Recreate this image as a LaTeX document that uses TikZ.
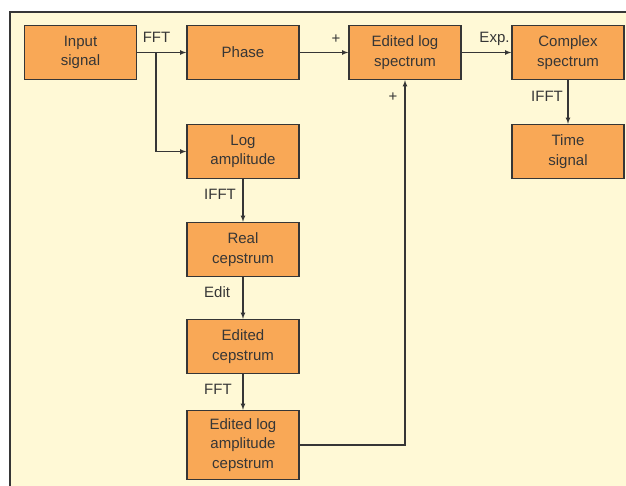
\documentclass[tikz,border=0pt]{standalone}
\usepackage{fontspec}
\setmainfont{Liberation Sans}
\usepackage{xcolor}
\usetikzlibrary{arrows}
\definecolor{bgcream}{HTML}{FFF9D6}
\definecolor{boxorange}{HTML}{F9A856}
\definecolor{inkgray}{HTML}{363636}
\tikzset{
	block/.style={
			draw=inkgray, line width=1.4pt, fill=boxorange,
			minimum width=112pt, minimum height=54pt, inner sep=0pt,
			align=center, text=inkgray, font=\fontsize{15}{19.5}\selectfont
		},
	flow/.style={draw=inkgray, line width=1.1pt, ->, >=latex},
	tag/.style={text=inkgray, inner sep=0pt, font=\fontsize{15}{18}\selectfont}
}

\begin{document}
\begin{tikzpicture}[x=1pt, y=-1pt]
        % Hintergrund und Rahmen
        \useasboundingbox (0,0) rectangle (626,486);
        \fill[bgcream] (10,12) rectangle (626,486);
        \draw[inkgray, line width=1.3pt] (10,486) -- (10,12) -- (626,12);
        % Kaesten
        \node[block] (input) at (80.5,52.5) {Input\\signal};
        \node[block] (phase) at (243,52.5) {Phase};
        \node[block] (elspec) at (405,52.5) {Edited log\\spectrum};
        \node[block] (complex) at (568,52.5) {Complex\\spectrum};
        \node[block] (timesig) at (568,151.5) {Time\\signal};
        \node[block] (logamp) at (243,151.5) {Log\\amplitude};
        \node[block] (realcep) at (243,249.5) {Real\\cepstrum};
        \node[block] (editcep) at (243,346.5) {Edited\\cepstrum};
        \node[block, minimum height=69pt] (elacep) at (243,445) {Edited log\\amplitude\\cepstrum};
        % Verbindungen
        \coordinate (split) at (156,52.5);
        \draw[flow] (input) -- (phase);
        \draw[flow] (split) |- (logamp);
        \draw[flow] (phase) -- (elspec);
        \draw[flow] (elspec) -- (complex);
        \draw[flow] (complex) -- (timesig);
        \draw[flow] (logamp) -- (realcep);
        \draw[flow] (realcep) -- (editcep);
        \draw[flow] (editcep) -- (elacep);
        \draw[flow] (elacep) -| (elspec);
        % Beschriftungen
        \node[tag, anchor=base] (fftA) at (156.5,43) {FFT};
        \node[tag, anchor=base] (plusA) at (336,44) {+};
        \node[tag, anchor=base] (exp) at (494.5,43) {Exp.};
        \node[tag, anchor=base] (plusB) at (393,102) {+};
        \node[tag, anchor=base] (ifftB) at (547,102) {IFFT};
        \node[tag, anchor=base west] (ifftA) at (204,200) {IFFT};
        \node[tag, anchor=base west] (edit) at (204,297) {Edit};
        \node[tag, anchor=base west] (fftB) at (204,394) {FFT};
    \end{tikzpicture}
\end{document}
